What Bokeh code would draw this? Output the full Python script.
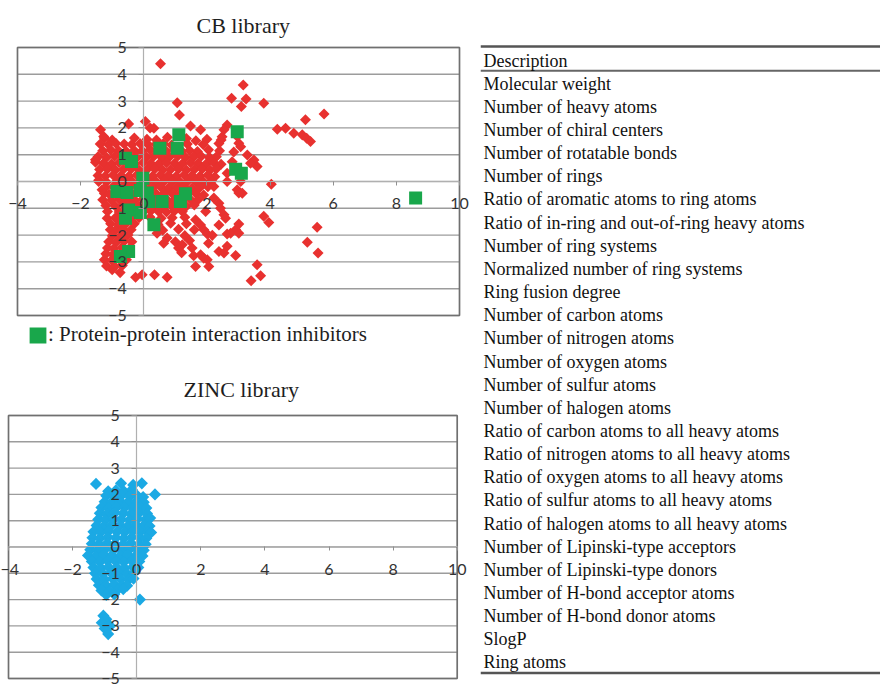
import numpy as np
from bokeh.plotting import figure
from bokeh.models import Range1d, FixedTicker, Legend, LegendItem
from bokeh.layouts import row, column
from bokeh.embed import file_html
from bokeh.resources import INLINE
from bokeh.core.properties import value

# ---------------- data ----------------
CB_TITLE = "CB library"
ZINC_TITLE = "ZINC library"
LEGEND_LABEL = ": Protein-protein interaction inhibitors"
X_TICKS = [-4, -2, 0, 2, 4, 6, 8, 10]
Y_TICKS = [-5, -4, -3, -2, -1, 0, 1, 2, 3, 4, 5]

cb_red_core = [
    (-1.25, 1.62), (-1.00, 1.55), (-0.30, 1.62), (0.10, 1.58), (0.40, 1.55), (0.75, 1.65), (1.35, 1.60), (1.65, 1.52), (2.00, 1.58), (2.45, 1.55),
    (-1.38, 1.40), (-1.12, 1.38), (-0.88, 1.42), (-0.62, 1.40), (-0.38, 1.38), (-0.12, 1.42), (0.12, 1.40), (0.38, 1.38), (0.62, 1.42), (0.88, 1.36), (1.38, 1.40), (1.88, 1.38), (2.38, 1.42),
    (-1.30, 1.15), (-1.05, 1.18), (-0.80, 1.15), (-0.55, 1.12), (-0.30, 1.16), (-0.05, 1.15), (0.20, 1.18), (0.45, 1.12), (0.70, 1.15), (0.95, 1.18), (1.20, 1.14), (1.45, 1.16), (1.70, 1.12), (2.05, 1.18), (2.40, 1.15), (2.85, 1.10),
    (-1.45, 0.92), (-1.18, 0.90), (-0.92, 0.94), (-0.68, 0.92), (-0.42, 0.90), (-0.18, 0.93), (0.08, 0.91), (0.32, 0.94), (0.58, 0.90), (0.82, 0.92), (1.08, 0.95), (1.32, 0.90), (1.58, 0.92), (1.82, 0.94), (2.08, 0.90), (2.30, 0.92),
    (-1.53, 0.72), (-1.28, 0.68), (-1.02, 0.66), (-0.78, 0.70), (-0.52, 0.68), (-0.28, 0.66), (-0.02, 0.70), (0.22, 0.68), (0.48, 0.66), (0.72, 0.70), (0.98, 0.68), (1.22, 0.66), (1.48, 0.70), (1.72, 0.68), (1.98, 0.66), (2.22, 0.70), (2.45, 0.64),
    (-1.40, 0.45), (-1.15, 0.47), (-0.90, 0.43), (-0.65, 0.45), (-0.40, 0.47), (-0.15, 0.43), (0.10, 0.45), (0.35, 0.47), (0.60, 0.43), (0.85, 0.45), (1.10, 0.47), (1.35, 0.43), (1.60, 0.45), (1.85, 0.47), (2.10, 0.43), (2.30, 0.48),
    (-1.45, 0.22), (-1.22, 0.20), (-0.97, 0.24), (-0.72, 0.22), (-0.47, 0.20), (-0.22, 0.24), (0.03, 0.22), (0.28, 0.20), (0.53, 0.24), (0.78, 0.22), (1.03, 0.20), (1.28, 0.24), (1.53, 0.22), (1.78, 0.20), (2.03, 0.24), (2.25, 0.18),
    (-1.43, 0.00), (-1.18, -0.02), (-0.85, 0.02), (-0.60, 0.00), (-0.35, -0.02), (-0.10, 0.02), (0.15, 0.00), (0.40, -0.02), (0.65, 0.02), (0.90, 0.00), (1.15, -0.02), (1.40, 0.02), (1.65, 0.00), (1.90, -0.02), (2.15, 0.02),
    (-1.32, -0.31), (-1.22, -0.22), (-0.97, -0.20), (-0.72, -0.24), (-0.47, -0.22), (-0.22, -0.20), (0.03, -0.24), (0.28, -0.22), (0.53, -0.20), (0.78, -0.24), (1.03, -0.22), (1.28, -0.20), (1.53, -0.24), (1.78, -0.22), (2.03, -0.20), (2.22, -0.19),
    (-1.25, -0.45), (-1.10, -0.47), (-0.85, -0.43), (-0.60, -0.45), (-0.35, -0.47), (-0.10, -0.43), (0.15, -0.45), (0.40, -0.47), (0.65, -0.43), (0.90, -0.45), (1.15, -0.47), (1.40, -0.43), (1.65, -0.45), (1.90, -0.50),
    (-1.30, -0.68), (-1.03, -0.70), (-0.78, -0.66), (-0.53, -0.68), (-0.28, -0.70), (-0.03, -0.66), (0.22, -0.68), (0.47, -0.70), (0.72, -0.66), (0.97, -0.68), (1.22, -0.70), (1.47, -0.66), (1.72, -0.68), (2.22, -0.62),
    (-1.20, -0.90), (-0.90, -0.92), (-0.65, -0.88), (-0.40, -0.90), (-0.15, -0.92), (0.10, -0.88), (0.35, -0.90), (0.60, -0.92), (0.85, -0.88), (1.10, -0.90), (1.35, -0.92), (1.60, -0.88), (2.38, -0.81), (2.43, -1.00),
    (-1.15, -1.12), (-0.78, -1.14), (-0.53, -1.10), (-0.28, -1.12), (-0.03, -1.14), (0.22, -1.10), (0.47, -1.12), (0.72, -1.14), (0.97, -1.10), (1.22, -1.12), (1.96, -1.12), (2.54, -1.24),
    (-1.16, -1.37), (-0.90, -1.35), (-0.65, -1.33), (-0.40, -1.37), (-0.15, -1.35), (0.20, -1.33), (0.55, -1.37), (0.90, -1.35), (1.30, -1.33), (1.64, -1.43), (2.59, -1.37),
    (-1.05, -1.58), (-0.80, -1.60), (-0.55, -1.56), (-0.30, -1.58), (0.45, -1.60), (0.85, -1.56), (1.35, -1.58), (1.80, -1.62), (2.38, -1.62),
    (-1.06, -1.80), (-0.90, -1.82), (-0.65, -1.78), (-0.40, -1.80), (0.60, -1.82), (1.10, -1.78), (1.60, -1.80), (1.90, -1.80), (2.91, -1.80),
    (-1.00, -2.02), (-0.75, -2.04), (-0.50, -2.00), (0.42, -1.93), (0.74, -2.11), (1.30, -2.02), (2.01, -1.96), (2.17, -2.01), (2.64, -1.96), (2.75, -1.93), (3.01, -1.93),
    (-1.11, -2.25), (-0.88, -2.27), (-0.62, -2.23), (-0.38, -2.25), (0.63, -2.30), (1.00, -2.25), (1.22, -2.36), (1.45, -2.20), (2.05, -2.30),
    (-1.15, -2.48), (-0.95, -2.50), (-0.70, -2.46), (-0.45, -2.48), (1.10, -2.48), (1.53, -2.48), (2.64, -2.42),
    (-1.20, -2.70), (-0.98, -2.72), (-0.72, -2.68), (-0.50, -2.70), (1.20, -2.66), (1.58, -2.77), (1.80, -2.73), (2.38, -2.61), (2.54, -2.67), (2.91, -2.76),
    (-1.25, -2.92), (-1.02, -2.94), (-0.78, -2.90), (-0.55, -2.92), (1.90, -2.86), (2.01, -2.92),
    (-1.18, -3.15), (-0.92, -3.17), (-0.68, -3.13), (1.64, -3.17), (2.06, -3.17),
    (-1.00, -3.29), (-0.75, -3.40), (-0.26, -3.57), (-0.05, -3.48), (0.34, -3.48), (0.74, -3.57),
]

cb_red_outliers = [
    (0.53, 4.39), (3.15, 3.60), (2.78, 3.11), (3.24, 3.08), (3.09, 2.80), (3.80, 2.92), (1.06, 2.94), (1.13, 2.48),
    (5.71, 2.52), (5.12, 2.30), (4.23, 1.95), (4.49, 1.99), (4.75, 1.80), (5.02, 1.74), (5.16, 1.61), (5.28, 1.49),
    (4.04, -0.10), (3.80, -1.30), (3.96, -1.53), (5.49, -1.71), (5.18, -2.27), (5.52, -2.67), (3.59, -3.11), (3.70, -3.52), (3.40, -3.70),
    (-0.48, 2.15), (0.05, 2.24), (0.20, 2.00), (0.32, 1.99), (1.48, 2.07), (1.80, 1.93), (2.64, 2.11), (2.54, 1.93), (2.48, 1.67),
    (-1.37, 1.93), (-1.27, 1.68), (3.01, 1.43), (3.07, 1.30), (2.96, 1.68), (3.28, 0.99), (3.49, 0.80), (3.59, 0.56), (3.38, 0.68),
    (2.80, 0.74), (2.64, 0.31), (2.64, 0.00), (3.07, 0.00), (2.96, -0.31), (3.12, -0.44), (3.01, -0.43), (3.01, -1.59),
    (-1.53, 0.81), (-1.43, 0.05),
]

cb_green = [
    (2.96, 1.86), (1.11, 1.74), (0.51, 1.24), (1.06, 1.24), (-0.58, 0.87), (-0.39, 0.75), (2.91, 0.46), (3.09, 0.31),
    (-0.03, 0.12), (-0.85, -0.37), (-0.53, -0.41), (-0.11, -0.34), (0.11, -0.43), (0.16, -0.75), (0.58, -0.75),
    (1.16, -0.75), (1.32, -0.46), (-0.48, -1.06), (-0.11, -1.16), (-0.58, -1.37), (0.32, -1.61), (-0.48, -2.61),
    (-0.74, -2.80), (8.61, -0.62),
]

zinc_blue = [
    (-1.27, 2.40), (-0.49, 2.42), (-0.11, 2.36), (0.16, 2.42),
    (-0.89, 2.12), (-0.65, 2.15), (-0.40, 2.12), (-0.15, 2.18), (0.57, 2.00),
    (-0.95, 1.95), (-0.72, 1.92), (-0.48, 1.96), (-0.22, 1.93), (0.02, 1.95), (0.20, 1.90),
    (-1.00, 1.72), (-0.78, 1.70), (-0.52, 1.74), (-0.28, 1.70), (-0.02, 1.73), (0.22, 1.70),
    (-1.10, 1.50), (-0.88, 1.48), (-0.62, 1.52), (-0.38, 1.50), (-0.12, 1.48), (0.12, 1.52), (0.30, 1.48),
    (-1.15, 1.28), (-0.92, 1.26), (-0.68, 1.30), (-0.42, 1.28), (-0.18, 1.26), (0.08, 1.30), (0.32, 1.27),
    (-1.20, 1.05), (-0.98, 1.03), (-0.72, 1.07), (-0.48, 1.05), (-0.22, 1.03), (0.02, 1.07), (0.28, 1.05), (0.42, 1.10),
    (-1.25, 0.82), (-1.02, 0.80), (-0.78, 0.84), (-0.52, 0.82), (-0.28, 0.80), (-0.02, 0.84), (0.22, 0.82), (0.40, 0.80),
    (-1.35, 0.58), (-1.12, 0.56), (-0.88, 0.60), (-0.62, 0.58), (-0.38, 0.56), (-0.12, 0.60), (0.12, 0.58), (0.35, 0.56), (0.45, 0.55),
    (-1.38, 0.35), (-1.15, 0.33), (-0.90, 0.37), (-0.65, 0.35), (-0.40, 0.33), (-0.15, 0.37), (0.10, 0.35), (0.30, 0.33),
    (-1.40, 0.12), (-1.18, 0.10), (-0.92, 0.14), (-0.68, 0.12), (-0.42, 0.10), (-0.18, 0.14), (0.08, 0.12), (0.28, 0.10),
    (-1.45, -0.10), (-1.22, -0.12), (-0.98, -0.08), (-0.72, -0.10), (-0.48, -0.12), (-0.22, -0.08), (0.02, -0.10), (0.22, -0.12),
    (-1.52, -0.32), (-1.28, -0.34), (-1.02, -0.30), (-0.78, -0.32), (-0.52, -0.34), (-0.28, -0.30), (-0.02, -0.32), (0.18, -0.34),
    (-1.40, -0.55), (-1.15, -0.57), (-0.90, -0.53), (-0.65, -0.55), (-0.40, -0.57), (-0.15, -0.53), (0.08, -0.55),
    (-1.35, -0.78), (-1.12, -0.80), (-0.88, -0.76), (-0.62, -0.78), (-0.38, -0.80), (-0.12, -0.76), (0.05, -0.78),
    (-1.30, -1.00), (-1.05, -1.02), (-0.80, -0.98), (-0.55, -1.00), (-0.30, -1.02), (-0.08, -0.98),
    (-1.25, -1.22), (-1.00, -1.24), (-0.75, -1.20), (-0.50, -1.22), (-0.25, -1.24), (-0.10, -1.20),
    (-1.18, -1.45), (-0.95, -1.47), (-0.70, -1.43), (-0.45, -1.45), (-0.30, -1.47),
    (-1.10, -1.65), (-0.85, -1.67), (-0.60, -1.63), (-0.42, -1.60),
    (-0.95, -1.82), (-0.70, -1.80),
    (0.10, -2.00), (-1.04, -2.61), (-0.95, -2.75), (-1.09, -2.88), (-0.83, -3.00), (-1.00, -3.10), (-0.89, -3.31),
]

DESCRIPTION_HEADER = "Description"
DESCRIPTIONS = [
    "Molecular weight",
    "Number of heavy atoms",
    "Number of chiral centers",
    "Number of rotatable bonds",
    "Number of rings",
    "Ratio of aromatic atoms to ring atoms",
    "Ratio of in-ring and out-of-ring heavy atoms",
    "Number of ring systems",
    "Normalized number of ring systems",
    "Ring fusion degree",
    "Number of carbon atoms",
    "Number of nitrogen atoms",
    "Number of oxygen atoms",
    "Number of sulfur atoms",
    "Number of halogen atoms",
    "Ratio of carbon atoms to all heavy atoms",
    "Ratio of nitrogen atoms to all heavy atoms",
    "Ratio of oxygen atoms to all heavy atoms",
    "Ratio of sulfur atoms to all heavy atoms",
    "Ratio of halogen atoms to all heavy atoms",
    "Number of Lipinski-type acceptors",
    "Number of Lipinski-type donors",
    "Number of H-bond acceptor atoms",
    "Number of H-bond donor atoms",
    "SlogP",
    "Ring atoms",
]

RED = "#e8312f"
GREEN = "#19a74b"
BLUE = "#1ba9e4"
SERIF = "Liberation Serif"
SANS = "Lato"
X_MIN, X_MAX = X_TICKS[0], X_TICKS[-1]
Y_MIN, Y_MAX = Y_TICKS[0], Y_TICKS[-1]


def xs(pts):
    return [p[0] for p in pts]


def ys(pts):
    return [p[1] for p in pts]


def make_scatter(title, title_offset, width, height, mbt, xr, yr):
    p = figure(width=width, height=height, x_range=Range1d(*xr), y_range=Range1d(*yr),
               output_backend="svg", toolbar_location=None, title=title,
               min_border_left=0, min_border_right=0, min_border_top=mbt, min_border_bottom=0)
    p.title.align = "left"
    p.title.offset = title_offset
    p.title.standoff = 0
    p.title.text_font = SERIF
    p.title.text_font_size = "22px"
    p.title.text_font_style = "normal"
    p.title.text_color = "#1e1e1e"
    p.background_fill_color = "white"
    p.border_fill_color = "white"
    p.outline_line_color = None
    p.grid.visible = False
    # horizontal gridlines and chart box, spanning the axis ranges
    p.segment(x0=[X_MIN] * len(Y_TICKS), x1=[X_MAX] * len(Y_TICKS), y0=Y_TICKS, y1=Y_TICKS,
              line_color="#9c9c9c", line_width=1.4)
    p.quad(left=[X_MIN], right=[X_MAX], bottom=[Y_MIN], top=[Y_MAX], fill_color=None,
           line_color="#707070", line_width=1.7)
    for ax in (p.xaxis, p.yaxis):
        ax.fixed_location = 0
        ax.axis_line_color = "#b0b0b0"
        ax.axis_line_width = 1.2
        ax.major_tick_line_color = "#909090"
        ax.major_tick_in = 0
        ax.minor_tick_line_color = None
        ax.major_label_text_font = SANS
        ax.major_label_text_font_size = "16px"
        ax.major_label_text_color = "#333333"
    p.xaxis.bounds = (X_MIN, X_MAX)
    p.yaxis.bounds = (Y_MIN, Y_MAX)
    p.xaxis.ticker = FixedTicker(ticks=X_TICKS)
    p.yaxis.ticker = FixedTicker(ticks=Y_TICKS)
    p.xaxis.major_tick_out = 4
    p.xaxis.major_label_standoff = 13
    p.yaxis.major_tick_out = 5
    p.yaxis.major_label_standoff = 12
    return p


# ---------------- CB library ----------------
# box: x -4..10 over 442 px, y -5..5 over 268 px
p1 = make_scatter(CB_TITLE, 196, 480, 360, 37, (-4.538, 10.665), (-6.679, 5.373))
red_pts = cb_red_core + cb_red_outliers
p1.scatter(xs(red_pts), ys(red_pts), marker="square", angle=np.pi / 4, size=7.8,
           fill_color=RED, line_color=None)
g = p1.rect(x=xs(cb_green), y=ys(cb_green), width=13, height=13,
            width_units="screen", height_units="screen",
            fill_color=GREEN, line_color=None)
leg = Legend(items=[LegendItem(label=LEGEND_LABEL, renderers=[g])], location=(27, 13),
             orientation="vertical", border_line_color=None, background_fill_alpha=0,
             padding=0, margin=0, glyph_width=21, glyph_height=20, label_standoff=0,
             label_text_font=SERIF, label_text_font_size="21px", label_text_color="#1e1e1e")
p1.add_layout(leg, "center")

# ---------------- ZINC library ----------------
# box: x -4..10 over 449 px, y -5..5 over 263 px
p2 = make_scatter(ZINC_TITLE, 183, 480, 328, 41, (-4.250, 10.727), (-5.380, 5.532))
p2.scatter(xs(zinc_blue), ys(zinc_blue), marker="square", angle=np.pi / 4, size=8.6,
           fill_color=BLUE, line_color=None)

# ---------------- description table ----------------
pt = figure(width=400, height=688, x_range=Range1d(480, 880), y_range=Range1d(688, 0),
            output_backend="svg", toolbar_location=None,
            min_border_left=0, min_border_right=0, min_border_top=0, min_border_bottom=0)
pt.axis.visible = False
pt.grid.visible = False
pt.outline_line_color = None
pt.background_fill_color = "white"
pt.border_fill_color = "white"

pt.segment(x0=[480, 480, 480], y0=[46, 70.3, 672.5], x1=[880, 880, 880], y1=[46, 70.3, 672.5],
           line_color=["#555555", "#666666", "#555555"], line_width=[2.6, 2.0, 2.6])

row_y0 = 83.2
row_h = 23.15
pt.text(x=[483], y=[60.5], text=[DESCRIPTION_HEADER], text_font=value(SERIF),
        text_font_size="18px", text_baseline="middle", text_align="left", text_color="#111111")
pt.text(x=[483] * len(DESCRIPTIONS), y=[row_y0 + i * row_h for i in range(len(DESCRIPTIONS))],
        text=DESCRIPTIONS, text_font=value(SERIF), text_font_size="18px",
        text_baseline="middle", text_align="left", text_color="#111111")

layout = row(column(p1, p2, spacing=0), pt, spacing=0)

open("out.html", "w").write(file_html(layout, INLINE))
